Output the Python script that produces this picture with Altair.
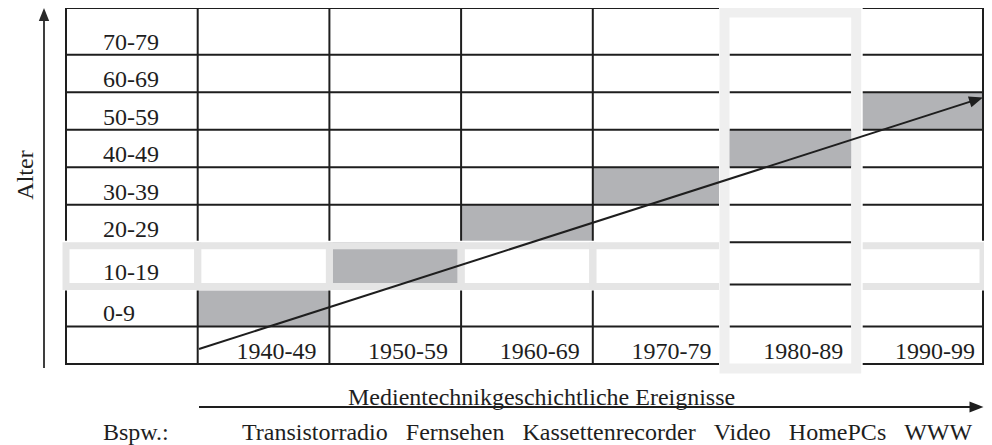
import math
import altair as alt
import pandas as pd

# ---------------- data ----------------
ages = ["70-79", "60-69", "50-59", "40-49", "30-39", "20-29", "10-19", "0-9"]
decades = ["1940-49", "1950-59", "1960-69", "1970-79", "1980-89", "1990-99"]
shaded_age = ["0-9", "10-19", "20-29", "30-39", "40-49", "50-59"]  # age group per decade
events = ["Transistorradio", "Fernsehen", "Kassettenrecorder", "Video", "HomePCs", "WWW"]
highlight_age = "10-19"
highlight_decade = "1980-89"
y_title = "Alter"
x_title = "Medientechnikgeschichtliche Ereignisse"
example_label = "Bspw.:"

# ---------------- layout ----------------
W, H = 976, 437
TABLE_LEFT = 58          # plot px
COL_W = 131.7
ROW_H = 37.47
row_heights = [1.25, 1, 1, 1, 1, 1, 1.13, 1.12, 1]   # age rows + year row
FONT = "Liberation Serif"
FS = 24
INK = "#1e1e1e"
GRAY = "#b2b3b6"
HATCH_ROW = "#e5e5e5"
HATCH_COL = "#efefef"


def gx(page_x):
    return (page_x - 8 - TABLE_LEFT) / COL_W


def gy(page_y):
    return (page_y - 8) / ROW_H


def dxu(px):
    return px / COL_W


def dyu(px):
    return px / ROW_H


edges = [0.0]
for h in row_heights:
    edges.append(edges[-1] + h)
NCOL = len(decades) + 1
col_edges = [float(c) for c in range(NCOL)] + [min(float(NCOL), gx(983))]
BOTTOM = edges[-1]
RIGHT = col_edges[-1]


def top(age):
    return edges[ages.index(age)]


def bot(age):
    return edges[ages.index(age) + 1]


xs = alt.Scale(domain=[gx(8), gx(8 + W)], nice=False, zero=False)
ys = alt.Scale(domain=[0, gy(8 + H)], nice=False, zero=False, reverse=True)


def X(f="x"):
    return alt.X(f"{f}:Q", scale=xs, axis=None)


def Y(f="y"):
    return alt.Y(f"{f}:Q", scale=ys, axis=None)


hl_col = decades.index(highlight_decade) + 1

# gray cells
cells = pd.DataFrame([
    dict(x=col_edges[j + 1], x2=col_edges[j + 2], y=top(a), y2=bot(a), inrow=(a == highlight_age),
         incol=(d == highlight_decade))
    for j, (d, a) in enumerate(zip(decades, shaded_age))
])


def rect_layer(df, **kw):
    return alt.Chart(df).mark_rect(**kw).encode(x=X(), x2=alt.X2("x2:Q"), y=Y(), y2=alt.Y2("y2:Q"))


layers = []
layers.append(rect_layer(cells, color=GRAY))

# grid lines
hlines = pd.DataFrame([dict(x=0, x2=RIGHT, y=e) for e in edges])
vlines = pd.DataFrame([dict(x=c, y=0, y2=BOTTOM) for c in col_edges])
layers.append(alt.Chart(hlines).mark_rule(color=INK, strokeWidth=2, strokeCap="square").encode(
    x=X(), x2=alt.X2("x2:Q"), y=Y()))
layers.append(alt.Chart(vlines).mark_rule(color=INK, strokeWidth=2, strokeCap="square").encode(
    x=X(), y=Y(), y2=alt.Y2("y2:Q")))

# highlighted age row
row_erase = pd.DataFrame([dict(x=-dxu(4), x2=RIGHT + dxu(4),
                               y=top(highlight_age) - dyu(1.5), y2=bot(highlight_age) + dyu(6))])
layers.append(rect_layer(row_erase, color="white"))
layers.append(rect_layer(cells[cells.inrow], color=GRAY))
row_cells = pd.DataFrame([
    dict(x=col_edges[c], x2=col_edges[c + 1], y=top(highlight_age) + dyu(3.5), y2=bot(highlight_age) + dyu(2))
    for c in range(NCOL) if c != hl_col
])
layers.append(rect_layer(row_cells, fillOpacity=0, stroke=HATCH_ROW, strokeWidth=7))

# highlighted decade column
col_erase = pd.DataFrame([dict(x=col_edges[hl_col] - dxu(5.5), x2=col_edges[hl_col + 1] + dxu(6.5),
                               y=-dyu(2), y2=BOTTOM + dyu(10))])
layers.append(rect_layer(col_erase, color="white"))
layers.append(rect_layer(cells[cells.incol], color=GRAY))
col_lines = pd.DataFrame([dict(x=col_edges[hl_col] + dxu(5), x2=col_edges[hl_col + 1] - dxu(5), y=e)
                          for e in edges[1:-1]])
layers.append(alt.Chart(col_lines).mark_rule(color=INK, strokeWidth=2).encode(
    x=X(), x2=alt.X2("x2:Q"), y=Y()))
col_box = pd.DataFrame([dict(x=col_edges[hl_col], x2=col_edges[hl_col + 1],
                             y=dyu(4.5), y2=BOTTOM + dyu(4.5))])
layers.append(rect_layer(col_box, fillOpacity=0, stroke=HATCH_COL, strokeWidth=10))

# arrows
ARROW = "M0,0L-2,-0.8L-2,0.8Z"


def arrow(x0, y0, x1, y1, color, width, head):
    ddx = (x1 - x0) * COL_W
    ddy = (y1 - y0) * ROW_H
    L = math.hypot(ddx, ddy)
    ang = math.degrees(math.atan2(ddy, ddx)) % 360
    shrink = head * 0.6
    xe = x1 - (ddx / L) * shrink / COL_W
    ye = y1 - (ddy / L) * shrink / ROW_H
    line = alt.Chart(pd.DataFrame([dict(x=x0, y=y0, x2=xe, y2=ye)])).mark_rule(
        color=color, strokeWidth=width).encode(x=X(), y=Y(), x2=alt.X2("x2:Q"), y2=alt.Y2("y2:Q"))
    tip = alt.Chart(pd.DataFrame([dict(x=x1, y=y1)])).mark_point(
        shape=ARROW, filled=True, opacity=1, color=color, size=head * head, angle=ang, strokeWidth=0
    ).encode(x=X(), y=Y())
    return [line, tip]


layers += arrow(gx(44), gy(368), gx(44), gy(8), "#2a2a2a", 1.8, 13)
layers += arrow(gx(199), gy(407), gx(983.5), gy(407), INK, 2, 14)
layers += arrow(gx(199), gy(349), gx(983), gy(97.6), INK, 2, 14)


# texts
def text_layer(df, **kw):
    return alt.Chart(df).mark_text(font=FONT, fontSize=FS, color=INK, baseline="alphabetic", **kw).encode(
        x=X(), y=Y(), text="t:N")


row_lab = pd.DataFrame([dict(x=dxu(37), y=bot(a), t=a) for a in ages])
layers.append(text_layer(row_lab, align="left", dy=-5))
year_lab = pd.DataFrame([dict(x=j + 2 - dxu(13), y=BOTTOM, t=d) for j, d in enumerate(decades)])
layers.append(text_layer(year_lab, align="right", dy=-5))
layers.append(text_layer(pd.DataFrame([dict(x=gx(33), y=gy(175), t=y_title)]), align="center", angle=270))
layers.append(text_layer(pd.DataFrame([dict(x=gx(348), y=gy(405), t=x_title)]), align="left"))
layers.append(text_layer(pd.DataFrame([dict(x=gx(103), y=gy(440), t=example_label)]), align="left"))
layers.append(text_layer(pd.DataFrame([dict(x=gx(242), y=gy(440), t="\u00a0\u00a0\u00a0".join(events))]),
                         align="left"))

chart = alt.layer(*layers).properties(
    width=W, height=H, padding=0, autosize="none", background="white"
).configure_view(strokeWidth=0)

chart.save("out.html", embed_options={"renderer": "svg", "actions": False})
